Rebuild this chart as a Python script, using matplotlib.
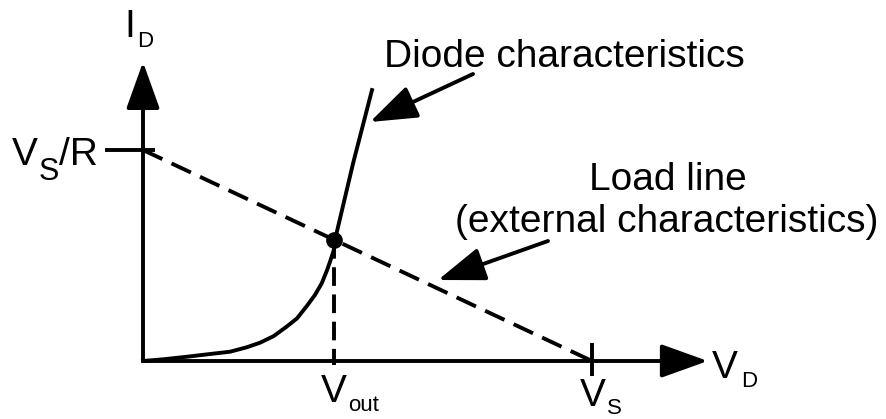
import matplotlib
matplotlib.use("Agg")
import matplotlib.pyplot as plt

plt.rcParams["font.family"] = ["Liberation Sans", "DejaVu Sans"]

# Units: V_D as a fraction of V_S, I_D as a fraction of V_S/R
diode_v = [0.000, 0.045, 0.097, 0.149, 0.194, 0.231, 0.261, 0.291, 0.320,
           0.343, 0.365, 0.383, 0.398, 0.410, 0.419, 0.425, 0.427, 0.468, 0.510]
diode_i = [0.000, 0.008, 0.020, 0.033, 0.044, 0.065, 0.087, 0.118, 0.163,
           0.202, 0.261, 0.313, 0.368, 0.431, 0.486, 0.526, 0.569, 0.938, 1.284]
load_v = [0.0, 1.0]
load_i = [1.0, 0.0]
v_out = 0.425
i_out = 0.575
v_axis_end = 1.258
i_axis_end = 1.417

# picture geometry (pixels) of the origin and of one unit
X0, Y0, SX, SY = 143, 361, 449, 211
W, H = 886, 419


def px(x, y):
    return (x - X0) / SX, (Y0 - y) / SY


def arrow(ax, tail, tip):
    ax.annotate("", xy=tip, xytext=tail,
                arrowprops=dict(arrowstyle="-|>,head_length=1.45,head_width=0.52",
                                mutation_scale=20, lw=2.8, color="black",
                                shrinkA=0, shrinkB=0))


def label(ax, x, y, s, size, ha="left"):
    ax.text(*px(x, y), s, fontsize=size, ha=ha, va="baseline", color="black")


fig = plt.figure(figsize=(W / 100, H / 100), dpi=100)
ax = fig.add_axes([0, 0, 1, 1])
ax.set_xlim(px(0, 0)[0], px(W, 0)[0])
ax.set_ylim(px(0, H)[1], px(0, 0)[1])
ax.axis("off")

# axes with arrow heads
arrow(ax, (0, 0), (v_axis_end, 0))
arrow(ax, (0, 0), (0, i_axis_end))

# ticks at V_S/R and V_S
ax.plot([-0.085, 0.027], [1.0, 1.0], color="black", lw=2.8, solid_capstyle="butt")
ax.plot([1.0, 1.0], [0.085, -0.071], color="black", lw=2.8, solid_capstyle="butt")

# load line and diode curve
ax.plot(load_v, load_i, color="black", lw=2.8, dashes=(5.5, 2.6))
ax.plot(diode_v, diode_i, color="black", lw=2.8, solid_joinstyle="round")
ax.plot([v_out, v_out], [i_out, -0.02], color="black", lw=2.8, dashes=(4.8, 2.2))
ax.plot([v_out], [i_out], "o", color="black", ms=11)

# pointer arrows
arrow(ax, px(473, 74), px(370, 122))
arrow(ax, px(548, 241), px(438, 280))

# texts
label(ax, 384, 67, "Diode characteristics", 28)
label(ax, 668, 190, "Load line", 28, ha="center")
label(ax, 667, 232, "(external characteristics)", 28, ha="center")

label(ax, 130, 37, "I", 28, ha="center")
label(ax, 137, 47, "D", 16)

label(ax, 12, 165, "V", 28)
label(ax, 39, 180, "S", 22)
label(ax, 59, 165, "/R", 28)

label(ax, 334, 402, "V", 28, ha="center")
label(ax, 348, 411, "out", 16)

label(ax, 580, 406, "V", 28)
label(ax, 607, 414, "S", 16)

label(ax, 712, 378, "V", 28)
label(ax, 741, 387, "D", 16)

fig.savefig("out.png", dpi=100)
